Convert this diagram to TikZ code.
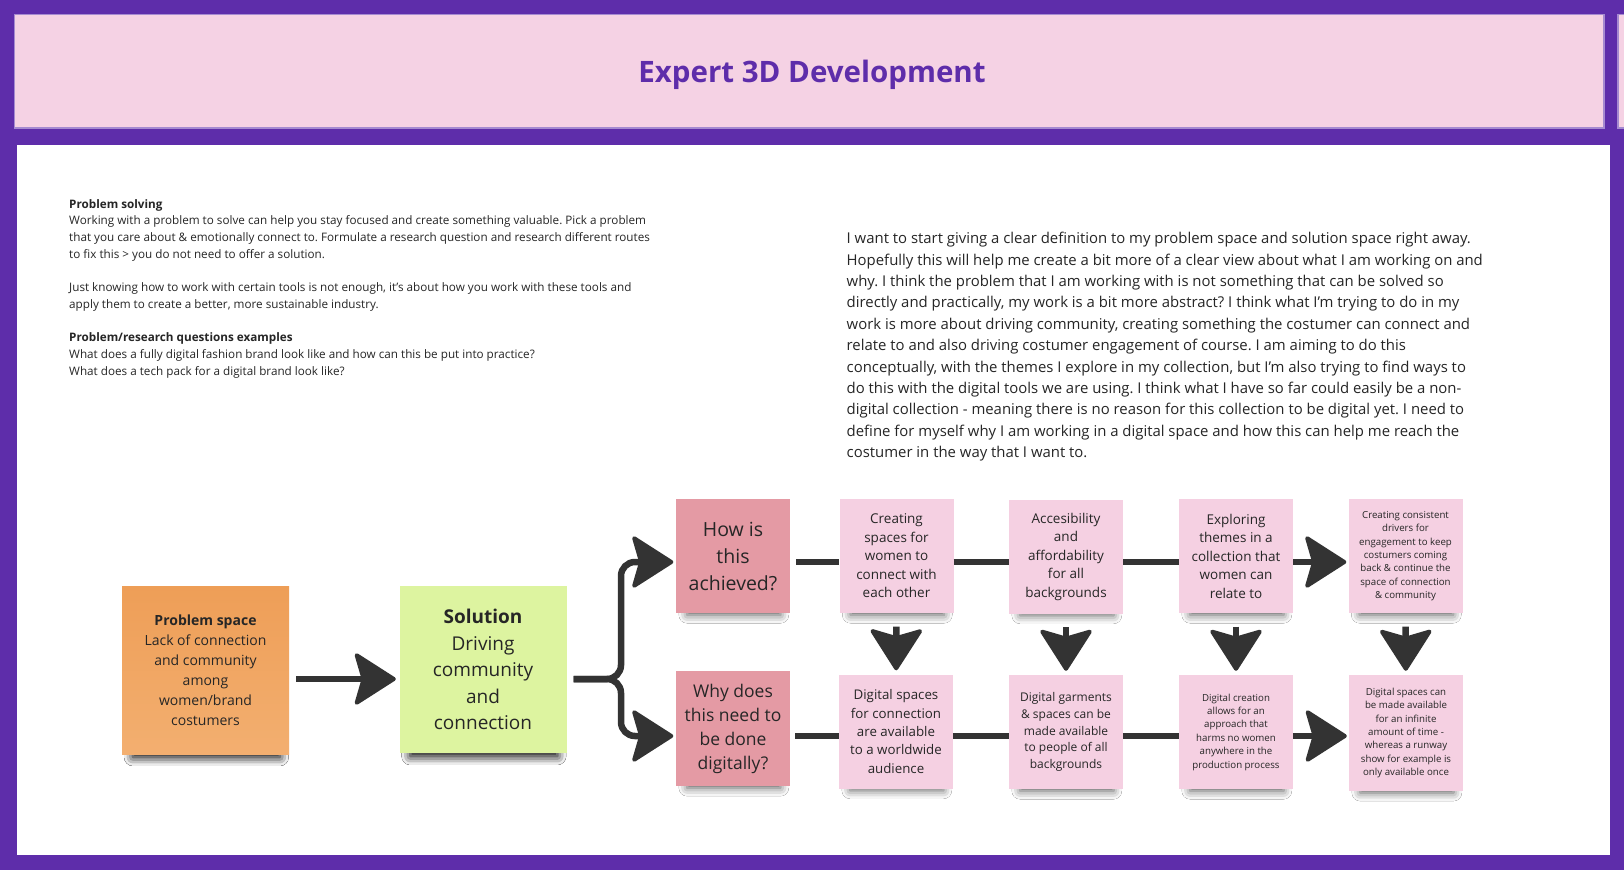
\documentclass[tikz,border=0pt]{standalone}
\usepackage{fontspec}
\setmainfont{Open Sans}
\usetikzlibrary{positioning, arrows.meta, shadows.blur}
\definecolor{brandpurple}{HTML}{5E2DAA}
\definecolor{framelilac}{HTML}{A58AD0}
\definecolor{headerpink}{HTML}{F5D2E4}
\definecolor{ink}{HTML}{333333}
\definecolor{textgrey}{HTML}{262626}
\definecolor{notepink}{HTML}{F5D0E2}
\definecolor{askpink}{HTML}{E49AA4}
\definecolor{solgreen}{HTML}{DDF4A0}
\definecolor{probtop}{HTML}{EE9E57}
\definecolor{probbot}{HTML}{F3AF70}
\frenchspacing
\tikzset{
	note/.style={
		rectangle,
		minimum width=114pt,
		minimum height=114pt,
		inner sep=0pt,
		align=center,
		text=textgrey,
		fill=notepink,
		blur shadow={shadow xshift=1pt, shadow yshift=-15pt, shadow scale=0.82, shadow blur radius=10pt, shadow opacity=65},
	},
	bignote/.style={
		note,
		minimum width=167pt,
		minimum height=168pt,
		blur shadow={shadow xshift=1pt, shadow yshift=-15pt, shadow scale=0.88, shadow blur radius=10pt, shadow opacity=65},
	},
	bigtext/.style={font=\fontsize{13.5}{18.5}\selectfont},
	smalltext/.style={font=\fontsize{9.7}{13.4}\selectfont},
	link/.style={
		draw=ink,
		line width=6.5pt,
	},
	arr/.style={
		link,
		-{Stealth[length=44pt, width=56pt, inset=8pt, round, line width=4pt]},
	},
}

\begin{document}
\begin{tikzpicture}[x=1pt, y=-1pt]
		% Frame
		\fill[brandpurple] (0,0) rectangle (1624,870);
		\useasboundingbox (0,0) rectangle (1624,870);
		\filldraw[fill=headerpink, draw=framelilac, line width=1.2pt] (14.5,14.5) rectangle (1604,128);
		\filldraw[fill=headerpink, draw=framelilac, line width=1.2pt] (1618,14.5) rectangle (1630,128);
		\fill[white] (16.5,145) rectangle (1610,855);
		\node[font=\bfseries\fontsize{29.5}{35}\selectfont, text=brandpurple] (title) at (812,75) {Expert 3D Development};
		
		% Texts
		\node[anchor=north west, align=left, inner sep=0pt, text=textgrey, font=\fontsize{11.7}{16.9}\selectfont] (brief) at (69,199) {\textbf{Problem solving}\\
Working with a problem to solve can help you stay focused and create something valuable. Pick a problem\\
that you care about \& emotionally connect to. Formulate a research question and research different routes\\
to fix this > you do not need to offer a solution.\\[16pt]
Just knowing how to work with certain tools is not enough, it's about how you work with these tools and\\
apply them to create a better, more sustainable industry.\\[16pt]
\textbf{Problem/research questions examples}\\
What does a fully digital fashion brand look like and how can this be put into practice?\\
What does a tech pack for a digital brand look like?};
		\node[anchor=north west, align=left, inner sep=0pt, text=textgrey, font=\fontsize{14.9}{21.4}\selectfont] (thoughts) at (846.5,232) {I want to start giving a clear definition to my problem space and solution space right away.\\
Hopefully this will help me create a bit more of a clear view about what I am working on and\\
why. I think the problem that I am working with is not something that can be solved so\\
directly and practically, my work is a bit more abstract? I think what I'm trying to do in my\\
work is more about driving community, creating something the costumer can connect and\\
relate to and also driving costumer engagement of course. I am aiming to do this\\
conceptually, with the themes I explore in my collection, but I'm also trying to find ways to\\
do this with the digital tools we are using. I think what I have so far could easily be a non-\\
digital collection - meaning there is no reason for this collection to be digital yet. I need to\\
define for myself why I am working in a digital space and how this can help me reach the\\
costumer in the way that I want to.};
		
		% Place notes
		\node[bignote, top color=probtop, bottom color=probbot, font=\fontsize{14}{20}\selectfont] (prob) at (205.5,670) {\textbf{Problem space}\\Lack of connection\\and community\\among\\women/brand\\costumers};
		\node[bignote, fill=solgreen, minimum height=167pt, font=\fontsize{19}{26.5}\selectfont] (sol) at (483,669.5) {\textbf{Solution}\\Driving\\community\\and\\connection};
		
		\node[note, fill=askpink, font=\fontsize{19.5}{27}\selectfont] (how) at (733,556) {How is\\this\\achieved?};
		\node[note, fill=askpink, minimum height=115pt, font=\fontsize{17.5}{24}\selectfont] (why) at (733,728.5) {Why does\\this need to\\be done\\digitally?};
		
		\node[note, bigtext] (c1) at (896.5,556) {Creating\\spaces for\\women to\\connect with\\each other};
		\node[note, bigtext] (c2) at (1066,556.5) {Accesibility\\and\\affordability\\for all\\backgrounds};
		\node[note, bigtext] (c3) at (1236,556) {Exploring\\themes in a\\collection that\\women can\\relate to};
		\node[note, smalltext] (c4) at (1405.5,556) {Creating consistent\\drivers for\\engagement to keep\\costumers coming\\back \& continue the\\space of connection\\\& community};
		
		\node[note, font=\fontsize{13.3}{18.3}\selectfont] (d1) at (896,731.5) {Digital spaces\\for connection\\are available\\to a worldwide\\audience};
		\node[note, font=\fontsize{12}{16.8}\selectfont] (d2) at (1066,732) {Digital garments\\\& spaces can be\\made available\\to people of all\\backgrounds};
		\node[note, smalltext] (d3) at (1236,732) {Digital creation\\allows for an\\approach that\\harms no women\\anywhere in the\\production process};
		\node[note, smalltext, minimum height=116pt] (d4) at (1406,733) {Digital spaces can\\be made available\\for an infinite\\amount of time -\\whereas a runway\\show for example is\\only available once};
		
		% Rows
		\coordinate (midrow) at (0,679);
		\coordinate (uprow) at (0,562);
		\coordinate (lowrow) at (0,736);
		\coordinate (fork) at (621,0);
		
		\draw[arr, shorten <=7pt, shorten >=3.5pt] (prob.east |- midrow) to (sol.west |- midrow);
		\draw[arr, rounded corners=14pt, shorten <=7pt, shorten >=2.5pt] (sol.east |- midrow) -- (fork |- midrow) -- (fork |- uprow) -- (how.west |- uprow);
		\draw[arr, rounded corners=14pt, shorten <=7pt, shorten >=2.5pt] (sol.east |- midrow) -- (fork |- midrow) -- (fork |- lowrow) -- (why.west |- lowrow);
		
		\draw[link, shorten <=6pt] (how.east |- uprow) to (c1.west |- uprow);
		\draw[link] (c1.east |- uprow) to (c2.west |- uprow);
		\draw[link] (c2.east |- uprow) to (c3.west |- uprow);
		\draw[arr, shorten >=2pt] (c3.east |- uprow) to (c4.west |- uprow);
		
		\draw[link, shorten <=5pt] (why.east |- lowrow) to (d1.west |- lowrow);
		\draw[link] (d1.east |- lowrow) to (d2.west |- lowrow);
		\draw[link] (d2.east |- lowrow) to (d3.west |- lowrow);
		\draw[arr, shorten >=2pt] (d3.east |- lowrow) to (d4.west |- lowrow);
		
		\draw[arr, shorten <=13.5pt, shorten >=4pt] (c1) to (d1);
		\draw[arr, shorten <=13.5pt, shorten >=4pt] (c2) to (d2);
		\draw[arr, shorten <=13.5pt, shorten >=4pt] (c3) to (d3);
		\draw[arr, shorten <=13.5pt, shorten >=4pt] (c4) to (d4);

	\end{tikzpicture}
\end{document}
